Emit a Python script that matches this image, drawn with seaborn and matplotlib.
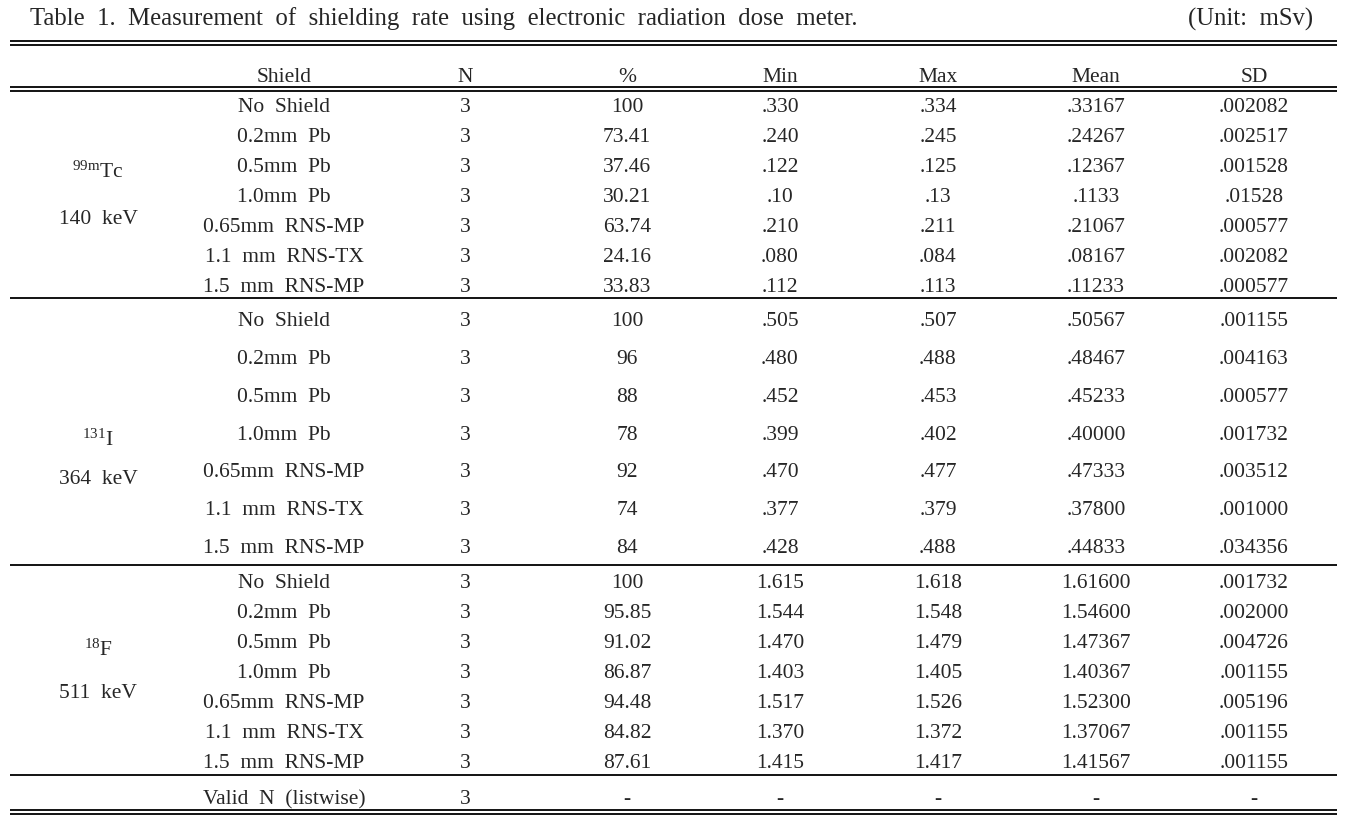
import matplotlib
matplotlib.use("Agg")
import matplotlib.pyplot as plt
import seaborn as sns

sns.set_theme(style="white")
plt.rcParams['font.family'] = ['Liberation Serif', 'DejaVu Serif']
plt.rcParams['mathtext.fontset'] = 'custom'
plt.rcParams['mathtext.rm'] = 'Liberation Serif'
plt.rcParams['mathtext.it'] = 'Liberation Serif:italic'

title_words = ["Table", "1.", "Measurement", "of", "shielding", "rate", "using",
               "electronic", "radiation", "dose", "meter."]
unit = "(Unit:  mSv)"
headers = ["Shield", "N", "%", "Min", "Max", "Mean", "SD"]
shields = ["No  Shield", "0.2mm  Pb", "0.5mm  Pb", "1.0mm  Pb",
           "0.65mm  RNS-MP", "1.1  mm  RNS-TX", "1.5  mm  RNS-MP"]
isotopes = [r"$\mathregular{^{99m}Tc}$", r"$\mathregular{^{131}I}$", r"$\mathregular{^{18}F}$"]
energies = ["140  keV", "364  keV", "511  keV"]

tc_n = ["3"] * 7
tc_pct = ["100", "73.41", "37.46", "30.21", "63.74", "24.16", "33.83"]
tc_min = [".330", ".240", ".122", ".10", ".210", ".080", ".112"]
tc_max = [".334", ".245", ".125", ".13", ".211", ".084", ".113"]
tc_mean = [".33167", ".24267", ".12367", ".1133", ".21067", ".08167", ".11233"]
tc_sd = [".002082", ".002517", ".001528", ".01528", ".000577", ".002082", ".000577"]

i_n = ["3"] * 7
i_pct = ["100", "96", "88", "78", "92", "74", "84"]
i_min = [".505", ".480", ".452", ".399", ".470", ".377", ".428"]
i_max = [".507", ".488", ".453", ".402", ".477", ".379", ".488"]
i_mean = [".50567", ".48467", ".45233", ".40000", ".47333", ".37800", ".44833"]
i_sd = [".001155", ".004163", ".000577", ".001732", ".003512", ".001000", ".034356"]

f_n = ["3"] * 7
f_pct = ["100", "95.85", "91.02", "86.87", "94.48", "84.82", "87.61"]
f_min = ["1.615", "1.544", "1.470", "1.403", "1.517", "1.370", "1.415"]
f_max = ["1.618", "1.548", "1.479", "1.405", "1.526", "1.372", "1.417"]
f_mean = ["1.61600", "1.54600", "1.47367", "1.40367", "1.52300", "1.37067", "1.41567"]
f_sd = [".001732", ".002000", ".004726", ".001155", ".005196", ".001155", ".001155"]

valid_label = "Valid  N  (listwise)"
valid_vals = ["3", "-", "-", "-", "-", "-"]

W, H = 1354, 815
fig = plt.figure(figsize=(W / 100, H / 100), dpi=100)
ax = fig.add_axes([0, 0, 1, 1])
ax.set_xlim(0, W)
ax.set_ylim(H, 0)
ax.axis("off")

fs = 15.5
fs_title = 17.8
dy = 3
col_x = [284, 465, 627, 780, 938, 1096, 1254]
x0, x1 = 10, 1337
lw = 1.3

def hline(y):
    ax.plot([x0, x1], [y, y], color="black", lw=lw, solid_capstyle="butt")

def dline(y):
    hline(y - 1.6)
    hline(y + 1.6)

def txt(x, y, s, ha="center", size=fs):
    ax.text(x, y + dy, s, fontsize=size, ha=ha, va="center")

txt(30, 16, "  ".join(title_words), ha="left", size=fs_title)
txt(1313, 16, unit, ha="right", size=fs_title)
dline(43)
for x, h in zip(col_x, headers):
    txt(x, 74, h)
dline(89)

blocks = [
    (tc_n, tc_pct, tc_min, tc_max, tc_mean, tc_sd),
    (i_n, i_pct, i_min, i_max, i_mean, i_sd),
    (f_n, f_pct, f_min, f_max, f_mean, f_sd),
]
block_rows = [
    [104 + 30 * i for i in range(7)],
    [319 + 37.7 * i for i in range(7)],
    [580 + 30 * i for i in range(7)],
]
iso_y = [169, 437, 647]
energy_y = [217, 477, 690]
block_end = [298, 565, 775]

for b, cols in enumerate(blocks):
    ys = block_rows[b]
    for r, y in enumerate(ys):
        txt(col_x[0], y, shields[r])
        for c, col in enumerate(cols):
            txt(col_x[c + 1], y, col[r])
    txt(98, iso_y[b], isotopes[b])
    txt(98, energy_y[b], energies[b])
    hline(block_end[b])

txt(col_x[0], 797, valid_label)
for c, v in enumerate(valid_vals):
    txt(col_x[c + 1], 797, v)
dline(812)

fig.savefig("out.png", dpi=100)
